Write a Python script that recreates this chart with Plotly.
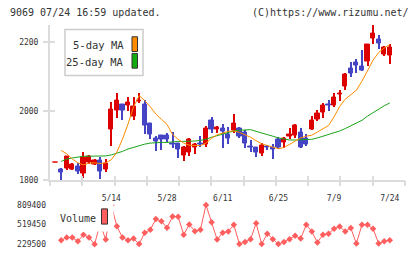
import plotly.graph_objects as go

# ---------------- data ----------------
dates = ["4/25", "4/26", "4/27", "5/1", "5/2", "5/7", "5/8", "5/9", "5/10", "5/11",
         "5/14", "5/15", "5/16", "5/17", "5/18",
         "5/21", "5/22", "5/23", "5/24", "5/25",
         "5/28", "5/29", "5/30", "5/31", "6/1",
         "6/4", "6/5", "6/6", "6/7", "6/8",
         "6/11", "6/12", "6/13", "6/14", "6/15",
         "6/18", "6/19", "6/20", "6/21", "6/22",
         "6/25", "6/26", "6/27", "6/28", "6/29",
         "7/2", "7/3", "7/4", "7/5", "7/6",
         "7/9", "7/10", "7/11", "7/12", "7/13",
         "7/17", "7/18", "7/19", "7/20",
         "7/23", "7/24"]

opens = [1853, 1831, 1835, 1832, 1840, 1819, 1851, 1847, 1857, 1832,
         1946, 2002, 2021, 2017, 1984,
         2027, 2021, 1965, 1920, 1930,
         1930, 1908, 1906, 1871, 1882,
         1896, 1908, 1903, 1972, 1946,
         1950, 1934, 1944, 1950, 1939,
         1899, 1894, 1877, 1899, 1894,
         1917, 1909, 1928, 1930, 1939,
         1920, 1948, 1977, 1996, 2021,
         2018, 2048, 2072, 2125, 2140,
         2129, 2144, 2211, 2208,
         2165, 2160]
highs = [1853, 1838, 1870, 1852, 1852, 1884, 1875, 1862, 1868, 1863,
         2028, 2053, 2022, 2043, 2043,
         2055, 2033, 1966, 1930, 1932,
         1940, 1941, 1907, 1901, 1925,
         1911, 1930, 1958, 1984, 1960,
         1964, 1955, 1993, 1955, 1948,
         1917, 1896, 1909, 1905, 1906,
         1927, 1927, 1953, 1964, 1953,
         1936, 1988, 2005, 2024, 2033,
         2055, 2063, 2112, 2145, 2154,
         2180, 2194, 2251, 2223,
         2190, 2197]
lows = [1853, 1800, 1832, 1831, 1821, 1809, 1849, 1846, 1807, 1827,
        1901, 1982, 1977, 2002, 1977,
        2026, 1935, 1920, 1887, 1889,
        1914, 1896, 1865, 1857, 1871,
        1878, 1898, 1899, 1939, 1940,
        1895, 1906, 1939, 1925, 1894,
        1885, 1870, 1873, 1890, 1863,
        1892, 1895, 1920, 1925, 1896,
        1901, 1948, 1974, 1982, 2002,
        2015, 2031, 2062, 2100, 2111,
        2119, 2131, 2197, 2183,
        2160, 2138]
closes = [1853, 1823, 1868, 1846, 1826, 1865, 1868, 1857, 1826, 1849,
          2005, 2031, 2002, 2026, 2013,
          2032, 1960, 1932, 1914, 1917,
          1917, 1903, 1889, 1894, 1917,
          1904, 1903, 1950, 1946, 1953,
          1942, 1920, 1964, 1928, 1906,
          1894, 1880, 1901, 1895, 1890,
          1896, 1922, 1934, 1958, 1896,
          1903, 1972, 1993, 2017, 2018,
          2041, 2052, 2105, 2109, 2133,
          2119, 2194, 2226, 2197,
          2185, 2185]

ma5 = [None, 1887, 1877, 1862, 1851, 1845, 1850, 1851, 1849, 1851,
       1860, 1882, 1919, 1963, 2013,
       2045, 2031, 2013, 1992, 1977,
       1962, 1933, 1919, 1908, 1902,
       1901, 1901, 1908, 1922, 1932,
       1938, 1942, 1943, 1939, 1932,
       1925, 1915, 1906, 1901, 1896,
       1892, 1895, 1904, 1912, 1923,
       1928, 1931, 1940, 1949, 1959,
       1984, 2014, 2035, 2048, 2061,
       2087, 2119, 2148, 2170,
       2183, 2193]
ma25 = [None, 1855, 1862, 1865, 1868, 1870, 1870, 1870, 1871, 1871,
        1874, 1878, 1884, 1891, 1896,
        1901, 1905, 1908, 1910, 1910,
        1910, 1912, 1913, 1913, 1913,
        1914, 1916, 1919, 1925, 1930,
        1935, 1939, 1943, 1945, 1946,
        1947, 1942, 1938, 1932, 1928,
        1923, 1919, 1917, 1917, 1917,
        1917, 1919, 1923, 1928, 1932,
        1938, 1943, 1950, 1958, 1966,
        1974, 1986, 1996, 2007,
        2016, 2024]

volume = [None, 287500, 326600, 326600, 273000, 370100, 326600, 229500, 534000, 297600,
          805000, 494800, 326600, 287500, 312100,
          231000, 399100, 442600, 602100, 567300,
          471600, 639800, 635400, 370100, 519450,
          422300, 442600, 809400, 552800, 297600,
          399100, 418000, 515100, 231000, 262800,
          302000, 538300, 232000, 384600, 302000,
          230500, 262800, 302000, 352700, 312100,
          516500, 418000, 254100, 370100, 384600,
          457100, 490500, 418000, 468700, 239600,
          516500, 515100, 457100, 239600,
          273000, 287500]

label_dates = ["5/14", "5/28", "6/11", "6/25", "7/9", "7/24"]
price_ticks = [1800, 2000, 2200]
vol_ticks = [229500, 519450, 809400]

# ---------------- styling ----------------
W, H = 420, 259
L_M, R_M = 50, 15
RED = "#dd0000"
BLUE = "#4444c4"
ORANGE = "#ff8c00"
GREEN = "#1aa51a"
VOLC = "#ff5e5e"
AXC = "#dcdcdc"
TXT = "#333333"
MONO = "DejaVu Sans Mono"


def px_x(p):
    return (p - L_M) / (W - L_M - R_M)


def px_y(p):
    return 1 - p / H


colors = [RED if c >= o else BLUE for o, c in zip(opens, closes)]
body_base = [min(o, c) for o, c in zip(opens, closes)]
body_h = [abs(c - o) for o, c in zip(opens, closes)]
wick_h = [h - l for h, l in zip(highs, lows)]

fig = go.Figure()

# wicks
fig.add_trace(go.Bar(x=dates, y=wick_h, base=lows, width=0.18,
                     marker=dict(color=colors, line=dict(width=0)),
                     xaxis="x", yaxis="y", hoverinfo="skip", showlegend=False))
# bodies
fig.add_trace(go.Bar(x=dates, y=body_h, base=body_base, width=0.76,
                     marker=dict(color=colors, line=dict(color=colors, width=1)),
                     xaxis="x", yaxis="y", hoverinfo="skip", showlegend=False))
# moving averages
fig.add_trace(go.Scatter(x=dates, y=ma25, mode="lines", line=dict(color=GREEN, width=1),
                         xaxis="x", yaxis="y", hoverinfo="skip", showlegend=False))
fig.add_trace(go.Scatter(x=dates, y=ma5, mode="lines", line=dict(color=ORANGE, width=1),
                         xaxis="x", yaxis="y", hoverinfo="skip", showlegend=False))
# volume
fig.add_trace(go.Scatter(x=dates, y=volume, mode="lines+markers",
                         line=dict(color=VOLC, width=1),
                         marker=dict(symbol="diamond", size=5, color=VOLC),
                         connectgaps=False,
                         xaxis="x2", yaxis="y2", hoverinfo="skip", showlegend=False))
# dummy traces for decoration axes
fig.add_trace(go.Scatter(x=[0], y=[None], xaxis="x3", yaxis="y", showlegend=False, hoverinfo="skip"))
fig.add_trace(go.Scatter(x=[0], y=[None], xaxis="x4", yaxis="y", showlegend=False, hoverinfo="skip"))
fig.add_trace(go.Scatter(x=[dates[0]], y=[None], xaxis="x", yaxis="y3", showlegend=False, hoverinfo="skip"))

xr = [-1.005, 62.73]
main_dom = [px_y(184), px_y(25)]
vol_dom = [px_y(253), px_y(205)]
vpp = (vol_ticks[2] - vol_ticks[0]) / 40.0
vol_range = [vol_ticks[0] - 4 * vpp, vol_ticks[2] + 4 * vpp]
prange = [1800, 2251]

tickfont = dict(family=MONO, size=8, color=TXT)

fig.update_layout(
    width=W, height=H,
    margin=dict(l=L_M, r=R_M, t=0, b=0),
    paper_bgcolor="white", plot_bgcolor="white",
    barmode="overlay", bargap=0,
    showlegend=False,
    xaxis=dict(type="category", range=xr, domain=[0, 1], anchor="y",
               showline=True, linecolor=AXC, linewidth=2,
               showgrid=False, zeroline=False,
               tickmode="array", tickvals=label_dates, ticktext=label_dates,
               ticks="", tickfont=tickfont, ticklabelstandoff=9),
    yaxis=dict(range=prange, domain=main_dom, anchor="x",
               showline=True, linecolor=AXC, linewidth=2,
               showgrid=False, zeroline=False,
               tickmode="array", tickvals=price_ticks,
               ticktext=[str(v) for v in price_ticks],
               ticks="outside", ticklen=5, tickwidth=2, tickcolor=AXC,
               tickfont=tickfont, ticklabelstandoff=3),
    yaxis3=dict(range=prange, overlaying="y", anchor="x", side="left",
                showline=False, showgrid=False, zeroline=False,
                tickmode="array", tickvals=price_ticks,
                ticks="inside", ticklen=5, tickwidth=2, tickcolor=AXC,
                showticklabels=False),
    xaxis3=dict(range=[0, 11], overlaying="x", anchor="y", side="bottom",
                showline=False, showgrid=False, zeroline=False,
                tickmode="linear", tick0=0, dtick=1,
                ticks="outside", ticklen=5, tickwidth=2, tickcolor=AXC,
                showticklabels=False),
    xaxis4=dict(range=[0, 11], overlaying="x", anchor="y", side="bottom",
                showline=False, showgrid=False, zeroline=False,
                tickmode="linear", tick0=0, dtick=1,
                ticks="inside", ticklen=4, tickwidth=2, tickcolor=AXC,
                showticklabels=False),
    xaxis2=dict(type="category", range=xr, domain=[0, 1], anchor="y2",
                visible=False, categoryorder="array", categoryarray=dates),
    yaxis2=dict(range=vol_range, domain=vol_dom, anchor="x2",
                showline=False, showgrid=False, zeroline=False,
                tickmode="array", tickvals=vol_ticks,
                ticktext=[str(v) for v in vol_ticks],
                ticks="", tickfont=tickfont, ticklabelstandoff=3),
)

shapes = []
annotations = []

# main legend box
shapes.append(dict(type="rect", xref="paper", yref="paper",
                   x0=px_x(65), x1=px_x(143), y0=px_y(77), y1=px_y(30),
                   fillcolor="white", line=dict(color="#cccccc", width=1.5), layer="above"))
shapes.append(dict(type="rect", xref="paper", yref="paper",
                   x0=px_x(132), x1=px_x(137.5), y0=px_y(52.5), y1=px_y(37.5),
                   fillcolor=ORANGE, line=dict(color="#333333", width=1), layer="above"))
shapes.append(dict(type="rect", xref="paper", yref="paper",
                   x0=px_x(132), x1=px_x(137.5), y0=px_y(69.5), y1=px_y(54.5),
                   fillcolor="#11aa11", line=dict(color="#333333", width=1), layer="above"))
annotations.append(dict(text="5-day MA", xref="paper", yref="paper",
                        x=px_x(126), y=px_y(46), xanchor="right", yanchor="middle",
                        showarrow=False, font=dict(family=MONO, size=10.5, color=TXT)))
annotations.append(dict(text="25-day MA", xref="paper", yref="paper",
                        x=px_x(126), y=px_y(63), xanchor="right", yanchor="middle",
                        showarrow=False, font=dict(family=MONO, size=10.5, color=TXT)))

# volume legend
shapes.append(dict(type="rect", xref="paper", yref="paper",
                   x0=px_x(55), x1=px_x(113.5), y0=px_y(236), y1=px_y(205),
                   fillcolor="white", line=dict(width=0), layer="above"))
shapes.append(dict(type="rect", xref="paper", yref="paper",
                   x0=px_x(101.5), x1=px_x(107.5), y0=px_y(228.5), y1=px_y(213),
                   fillcolor=VOLC, line=dict(color="#333333", width=1), layer="above"))
annotations.append(dict(text="Volume", xref="paper", yref="paper",
                        x=px_x(57.5), y=px_y(222.5), xanchor="left", yanchor="middle",
                        showarrow=False, font=dict(family=MONO, size=10, color=TXT)))

# header texts
annotations.append(dict(text="9069 07/24 16:59 updated.", xref="paper", yref="paper",
                        x=px_x(7.5), y=px_y(12.5), xanchor="left", yanchor="middle",
                        showarrow=False, font=dict(family=MONO, size=10, color=TXT)))
annotations.append(dict(text="(C)https://www.rizumu.net/", xref="paper", yref="paper",
                        x=px_x(410.5), y=px_y(12.5), xanchor="right", yanchor="middle",
                        showarrow=False, font=dict(family=MONO, size=10, color=TXT)))

fig.update_layout(shapes=shapes, annotations=annotations)

fig.write_html("out.html")
